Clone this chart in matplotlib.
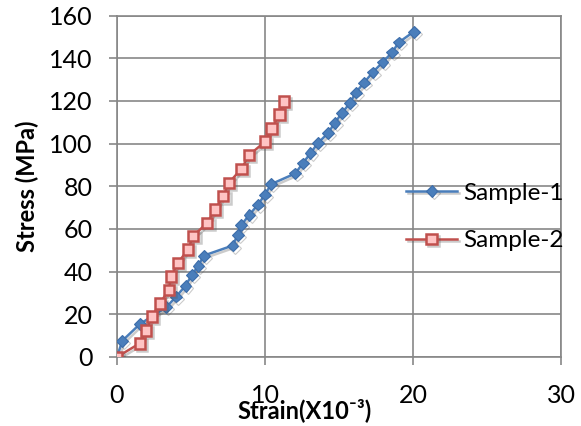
import matplotlib
matplotlib.use("Agg")
import matplotlib.pyplot as plt
import matplotlib.patheffects as pe

plt.rcParams['font.family'] = ['Lato', 'DejaVu Sans']

# Sample-1 (blue diamonds)
strain_1 = [0, 0.36, 1.54, 3.33, 4.0, 4.63, 5.05, 5.5, 5.86, 7.81, 8.15, 8.4,
            8.95, 9.53, 10.0, 10.42, 12.05, 12.55, 13.07, 13.56, 14.25, 14.7,
            15.19, 15.75, 16.13, 16.71, 17.27, 17.94, 18.59, 19.04, 20.05]
stress_1 = [0, 7.6, 15.4, 23.3, 28.3, 33.4, 38.3, 42.8, 47.5, 52.2, 57.0, 61.8,
            66.7, 71.4, 76.1, 81.0, 86.0, 90.7, 95.4, 100.1, 104.8, 109.5,
            114.2, 119.0, 123.9, 128.6, 133.3, 138.0, 142.7, 147.4, 152.4]

# Sample-2 (red squares)
strain_2 = [0, 1.54, 1.95, 2.37, 2.89, 3.51, 3.65, 4.12, 4.8, 5.15, 6.1, 6.62,
            7.18, 7.56, 8.41, 8.93, 10.0, 10.45, 10.99, 11.28]
stress_2 = [0, 6.4, 12.4, 18.9, 25.0, 31.5, 37.7, 44.1, 50.4, 56.7, 62.9, 69.1,
            75.3, 81.6, 88.2, 94.6, 100.9, 107.1, 113.6, 119.8]

x_ticks = [0, 10, 20, 30]
y_ticks = [0, 20, 40, 60, 80, 100, 120, 140, 160]

grid_col = '#878787'
shadow = [pe.SimpleLineShadow(offset=(1.5, -1.5), alpha=0.3, shadow_color='#555555'), pe.Normal()]

fig = plt.figure(figsize=(5.81, 4.26), dpi=100)
ax = fig.add_axes([117 / 581, 1 - 357 / 426, 444 / 581, 341.5 / 426])

ax.plot(strain_1, stress_1, color='#4A7EBB', lw=1.8, marker='D', ms=6,
        mfc='#4A7EBB', mec='#3C6DAA', mew=0.8, label='Sample-1',
        path_effects=shadow, zorder=3)
ax.plot(strain_2, stress_2, color='#C0504D', lw=1.8, marker='s', ms=7.5,
        mfc='#FFC4C4', mec='#C0504D', mew=1.8, label='Sample-2',
        path_effects=shadow, zorder=4)

ax.set_xlim(0, 30)
ax.set_ylim(0, 160)
ax.set_xticks(x_ticks)
ax.set_yticks(y_ticks)
ax.grid(True, color=grid_col, lw=1.2)
ax.set_axisbelow(True)
for s in ax.spines.values():
    s.set_color(grid_col)
    s.set_linewidth(1.2)
ax.tick_params(axis='both', length=5.5, width=1.2, color=grid_col,
               labelsize=18, labelcolor='black')
ax.tick_params(axis='x', pad=14)
ax.tick_params(axis='y', pad=12)

ax.set_xlabel('Strain(X10⁻³)', fontsize=17, fontweight='bold')
ax.xaxis.set_label_coords(0.423, -0.155)
ax.xaxis.label.set_va('center')
ax.set_ylabel('Stress (MPa)', fontsize=17, fontweight='bold')
ax.yaxis.set_label_coords(-0.203, 0.5)
ax.yaxis.label.set_va('center')

leg = ax.legend(loc='center left', bbox_to_anchor=(0.651, 0.41), frameon=False,
                fontsize=17.5, handlelength=2.1, handletextpad=0.25,
                labelspacing=1.1, borderpad=0, borderaxespad=0)

fig.savefig('out.png', dpi=100)
